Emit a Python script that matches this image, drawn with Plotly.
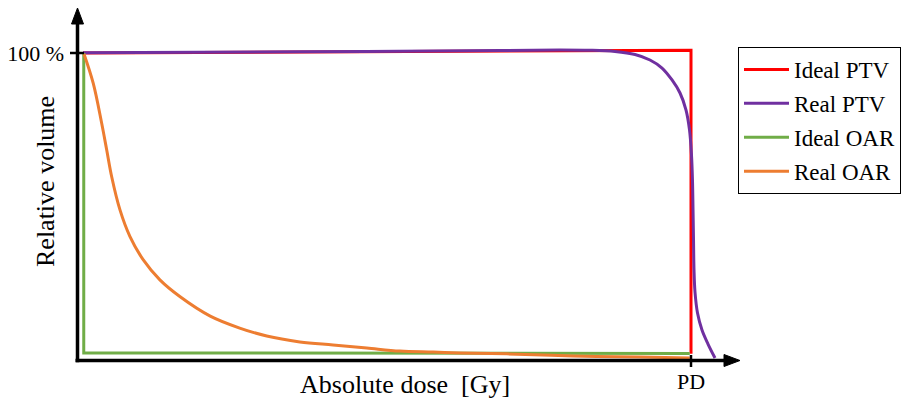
import plotly.graph_objects as go

# ---- data (dose in % of prescription dose PD, volume in %) ----
ideal_ptv_dose = [1.0, 100.0, 100.0]
ideal_ptv_vol = [100.0, 100.9, 2.0]

real_ptv_dose = [1.0, 36.3, 68.9, 78.66, 83.55, 87.62, 90.88, 93.32, 95.28, 96.91, 98.21, 99.19,
                 99.76, 100.08, 100.24, 100.33, 100.41, 100.49, 100.65, 101.06, 101.79, 102.77, 103.91]
real_ptv_vol = [100.1, 100.4, 100.8, 100.98, 100.88, 100.49, 99.51, 97.72, 95.11, 91.21, 86.97, 81.43,
                74.92, 66.78, 58.63, 48.86, 39.09, 29.32, 22.15, 15.31, 9.77, 5.21, 0.65]

ideal_oar_dose = [1.1, 1.1, 99.8]
ideal_oar_vol = [100.0, 2.3, 2.1]

real_oar_dose = [1.14, 2.65, 4.02, 4.84, 5.65, 7.0, 8.63, 10.8, 13.5, 16.8, 21.7, 26.5, 30.9, 36.3, 41.7, 47.2, 52.6, 58.0, 62.4, 70.0, 80.8, 91.7, 99.8]
real_oar_vol = [99.7, 90.1, 77.1, 68.4, 59.7, 48.9, 40.2, 32.6, 26.1, 20.6, 14.3, 10.4, 7.8, 5.9, 4.9, 3.9, 2.9, 2.6, 2.3, 2.0, 1.3, 1.0, 0.65]

series_names = ["Ideal PTV", "Real PTV", "Ideal OAR", "Real OAR"]
series_colors = ["#FF0000", "#7030A0", "#70AD47", "#ED7D31"]

x_tick_vals = [100]
x_tick_text = ["PD"]
y_tick_vals = [100]
y_tick_text = ["100 %"]

x_title = "Absolute dose\u00a0 [Gy]"
y_title = "Relative volume"

FONT = "Liberation Serif, Times New Roman, serif"

# ---- layout geometry (pixels) ----
W, H = 909, 402
L, R, T, B = 77, 760, 5, 362  # plot area in pixels
PX0, PXPD = 77.0, 691.0   # pixel of dose 0 and PD
PY0, PY100 = 360.0, 53.0  # pixel of volume 0 and 100

def px2x(px):
    return (px - PX0) / (PXPD - PX0) * 100.0

def py2y(py):
    return (PY0 - py) / (PY0 - PY100) * 100.0

def ppx(px):
    return (px - L) / (R - L)

def ppy(py):
    return (B - py) / (B - T)

fig = go.Figure()
series = [
    (ideal_ptv_dose, ideal_ptv_vol, "linear"),
    (real_ptv_dose, real_ptv_vol, "spline"),
    (ideal_oar_dose, ideal_oar_vol, "linear"),
    (real_oar_dose, real_oar_vol, "spline"),
]
for i, (xs, ys, shp) in enumerate(series):
    fig.add_trace(go.Scatter(
        x=xs, y=ys, mode="lines", name=series_names[i],
        legendgroup=series_names[i],
        line=dict(color=series_colors[i], width=3, shape=shp, smoothing=1.0),
        cliponaxis=False,
    ))

shapes = []
# x axis line and arrow
shapes.append(dict(type="line", xref="paper", yref="paper",
                   x0=ppx(75.5), x1=ppx(727), y0=ppy(360.5), y1=ppy(360.5),
                   line=dict(color="black", width=3.5)))
shapes.append(dict(type="path", xref="paper", yref="paper",
                   path=f"M {ppx(740)} {ppy(360.5)} L {ppx(724)} {ppy(354.5)} L {ppx(724)} {ppy(366.5)} Z",
                   fillcolor="black", line=dict(color="black", width=1)))
# y axis line and arrow
shapes.append(dict(type="line", xref="paper", yref="paper",
                   x0=ppx(77.5), x1=ppx(77.5), y0=ppy(362.2), y1=ppy(22),
                   line=dict(color="black", width=3.5)))
shapes.append(dict(type="path", xref="paper", yref="paper",
                   path=f"M {ppx(77.5)} {ppy(8)} L {ppx(71.5)} {ppy(24)} L {ppx(83.5)} {ppy(24)} Z",
                   fillcolor="black", line=dict(color="black", width=1)))
# tick marks
shapes.append(dict(type="line", xref="paper", yref="y",
                   x0=ppx(70), x1=ppx(84), y0=y_tick_vals[0], y1=y_tick_vals[0],
                   line=dict(color="black", width=2.5)))
shapes.append(dict(type="line", xref="x", yref="paper",
                   x0=x_tick_vals[0], x1=x_tick_vals[0], y0=ppy(355), y1=ppy(367),
                   line=dict(color="black", width=2.5)))

annotations = [
    dict(text=x_title, xref="paper", yref="paper", x=ppx(405), y=ppy(384),
         xanchor="center", yanchor="middle", showarrow=False,
         font=dict(family=FONT, size=26, color="black")),
    dict(text=y_title, xref="paper", yref="paper", x=ppx(45), y=ppy(182),
         xanchor="center", yanchor="middle", showarrow=False, textangle=-90,
         font=dict(family=FONT, size=26, color="black")),
]

fig.update_layout(
    width=W, height=H,
    margin=dict(l=L, r=W - R, t=T, b=H - B, pad=0),
    paper_bgcolor="white", plot_bgcolor="white",
    font=dict(family=FONT, color="black"),
    xaxis=dict(range=[px2x(L), px2x(R)], showgrid=False, zeroline=False, showline=False,
               tickvals=x_tick_vals, ticktext=x_tick_text, ticks="",
               tickfont=dict(family=FONT, size=22, color="black"), ticklabelstandoff=4),
    yaxis=dict(range=[py2y(B), py2y(T)], showgrid=False, zeroline=False, showline=False,
               tickvals=y_tick_vals, ticktext=y_tick_text, ticks="",
               tickfont=dict(family=FONT, size=22, color="black"), ticklabelstandoff=12),
    showlegend=True,
    legend=dict(x=ppx(738), y=ppy(47), xanchor="left", yanchor="top",
                bordercolor="black", borderwidth=1, bgcolor="white",
                font=dict(family=FONT, size=23, color="black"),
                tracegroupgap=1, traceorder="grouped", itemwidth=45),
    shapes=shapes,
    annotations=annotations,
)

fig.write_html("out.html")
